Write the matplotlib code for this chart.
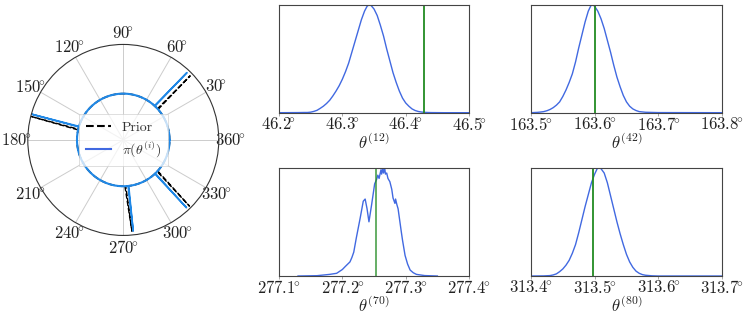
import matplotlib
matplotlib.use("Agg")
import matplotlib.pyplot as plt
from matplotlib.lines import Line2D
import numpy as np

plt.rcParams['font.family'] = 'serif'
plt.rcParams['font.serif'] = ['cmr10']
plt.rcParams['mathtext.fontset'] = 'cm'
plt.rcParams['axes.unicode_minus'] = False

TICK_FS = 12
LABEL_FS = 12

POST_COLOR = '#4169e1'
POLAR_COLOR = '#2088e6'
TRUE_COLOR = '#228b22'

# polar panel: spikes at the four highlighted angles (degrees), radius in [0, 1]
r_base = 0.485
post_base1 = [47.6, 163.0, 276.0, 313.0]
post_tip = [46.6, 164.3, 276.2, 313.0]
post_base2 = [46.9, 163.7, 276.7, 313.7]
post_tip_r = [0.97, 1.0, 0.96, 0.97]

prior_base1 = [41.3, 167.5, 272.0, 318.0]
prior_tip = [43.8, 165.7, 275.4, 315.0]
prior_base2 = [42.4, 166.6, 273.1, 317.0]
prior_tip_r = [0.97, 0.99, 0.96, 0.98]

theta_ticks = list(range(0, 360, 30))
theta_labels = [r'$360\!^{\circ}$'] + [r'$%d\!^{\circ}$' % t for t in theta_ticks[1:]]

# marginal posteriors (relative density, peak = 1)
x12 = [46.20, 46.23, 46.24, 46.245, 46.25, 46.255, 46.26, 46.265, 46.27, 46.275,
       46.28, 46.285, 46.29, 46.295, 46.30, 46.305, 46.31, 46.315, 46.32, 46.325,
       46.33, 46.335, 46.339, 46.342, 46.345, 46.35, 46.355, 46.36, 46.365, 46.37,
       46.375, 46.38, 46.385, 46.39, 46.395, 46.40, 46.405, 46.41, 46.415, 46.42,
       46.425, 46.43, 46.44, 46.46, 46.50]
y12 = [0.0, 0.001, 0.002, 0.002, 0.005, 0.012, 0.022, 0.04, 0.06, 0.085,
       0.115, 0.155, 0.20, 0.25, 0.31, 0.38, 0.46, 0.56, 0.66, 0.76,
       0.86, 0.94, 0.985, 1.0, 0.995, 0.96, 0.90, 0.81, 0.71, 0.59,
       0.48, 0.37, 0.28, 0.20, 0.135, 0.09, 0.06, 0.035, 0.02, 0.011,
       0.006, 0.003, 0.001, 0.0, 0.0]
true12 = 46.429

x42 = [163.50, 163.51, 163.515, 163.52, 163.525, 163.53, 163.535, 163.54, 163.545, 163.55,
       163.555, 163.56, 163.565, 163.57, 163.575, 163.58, 163.585, 163.59, 163.594, 163.597,
       163.60, 163.605, 163.61, 163.615, 163.62, 163.625, 163.63, 163.635, 163.64, 163.645,
       163.65, 163.655, 163.66, 163.665, 163.67, 163.68, 163.70, 163.80]
y42 = [0.0, 0.003, 0.006, 0.01, 0.018, 0.03, 0.047, 0.07, 0.10, 0.15,
       0.21, 0.28, 0.36, 0.47, 0.60, 0.72, 0.84, 0.94, 0.99, 1.0,
       0.985, 0.94, 0.87, 0.78, 0.67, 0.56, 0.44, 0.33, 0.24, 0.16,
       0.10, 0.06, 0.035, 0.02, 0.01, 0.004, 0.001, 0.0]
true42 = 163.600

x70 = [277.13, 277.16, 277.18, 277.191, 277.200, 277.205, 277.212, 277.215, 277.218, 277.222,
       277.225, 277.228, 277.233, 277.236, 277.239, 277.242, 277.246, 277.251, 277.254, 277.256,
       277.258, 277.261, 277.262, 277.264, 277.265, 277.267, 277.268, 277.270, 277.272, 277.275,
       277.278, 277.280, 277.283, 277.284, 277.286, 277.288, 277.293, 277.295, 277.299, 277.303,
       277.307, 277.312, 277.317, 277.33, 277.35]
y70 = [0.0, 0.003, 0.015, 0.025, 0.06, 0.09, 0.13, 0.17, 0.22, 0.35,
       0.44, 0.53, 0.69, 0.71, 0.62, 0.50, 0.65, 0.85, 0.89, 0.93,
       0.90, 0.98, 0.94, 1.0, 0.95, 0.99, 0.94, 0.95, 0.90, 0.87,
       0.80, 0.72, 0.67, 0.71, 0.66, 0.62, 0.41, 0.33, 0.19, 0.11,
       0.055, 0.03, 0.015, 0.004, 0.0]
true70 = 277.2524

x80 = [313.40, 313.42, 313.43, 313.435, 313.44, 313.445, 313.45, 313.455, 313.46, 313.465,
       313.47, 313.475, 313.48, 313.485, 313.49, 313.495, 313.50, 313.504, 313.507, 313.51,
       313.515, 313.52, 313.525, 313.53, 313.535, 313.54, 313.545, 313.55, 313.555, 313.56,
       313.565, 313.57, 313.575, 313.58, 313.59, 313.60, 313.70]
y80 = [0.0, 0.001, 0.004, 0.01, 0.02, 0.04, 0.065, 0.10, 0.145, 0.21,
       0.29, 0.40, 0.52, 0.64, 0.75, 0.86, 0.94, 0.99, 1.0, 0.99,
       0.95, 0.86, 0.74, 0.62, 0.50, 0.39, 0.29, 0.20, 0.13, 0.08,
       0.045, 0.025, 0.013, 0.007, 0.002, 0.0, 0.0]
true80 = 313.497

panels = [
    (x12, y12, true12, [46.2, 46.3, 46.4, 46.5], '12', [0.3735, 0.6445, 0.2544, 0.3407], 1.0),
    (x42, y42, true42, [163.5, 163.6, 163.7, 163.8], '42', [0.7108, 0.6445, 0.2557, 0.3407], 1.0),
    (x70, y70, true70, [277.1, 277.2, 277.3, 277.4], '70', [0.3735, 0.1293, 0.2544, 0.3420], 0.75),
    (x80, y80, true80, [313.4, 313.5, 313.6, 313.7], '80', [0.7108, 0.1293, 0.2557, 0.3420], 1.0),
]

fig = plt.figure(figsize=(7.47, 3.17), dpi=100)

# polar overview
ax = fig.add_axes([0.0372, 0.2573, 0.2557, 0.6025], projection='polar')
circle = np.linspace(0, 2 * np.pi, 721)
ax.plot(circle, np.full_like(circle, r_base), '--', color='black', lw=1.2)
for b1, t, b2, rt in zip(prior_base1, prior_tip, prior_base2, prior_tip_r):
    ax.plot(np.deg2rad([b1, t, b2]), [r_base, rt, r_base], '--', color='black', lw=1.0)
ax.plot(circle, np.full_like(circle, r_base), '-', color=POLAR_COLOR, lw=1.5)
for b1, t, b2, rt in zip(post_base1, post_tip, post_base2, post_tip_r):
    ax.plot(np.deg2rad([b1, t, b2]), [r_base, rt, r_base], '-', color=POLAR_COLOR, lw=1.2)
ax.set_ylim(0, 1)
ax.set_yticks([])
ax.set_thetagrids(theta_ticks, theta_labels, fontsize=TICK_FS, color='#222222')
ax.grid(True, color='#cccccc', lw=0.7)
ax.spines['polar'].set_color('#333333')
ax.spines['polar'].set_linewidth(0.8)
ax.tick_params(axis='x', pad=-2)

handles = [Line2D([], [], ls='--', color='black', lw=1.5),
           Line2D([], [], ls='-', color=POST_COLOR, lw=1.5)]
leg = ax.legend(handles, ['Prior', r'$\pi(\theta^{(i)})$'], loc='center',
                fontsize=10, framealpha=0.75, edgecolor='#cccccc', fancybox=False,
                handlelength=1.8, borderpad=0.5, labelspacing=0.4)
leg.get_frame().set_linewidth(0.6)
for t in leg.get_texts():
    t.set_color('#333333')

# marginal panels
for xs, ys, truth, ticks, idx, rect, alpha in panels:
    a = fig.add_axes(rect)
    a.plot(xs, ys, color=POST_COLOR, lw=1.0)
    a.axvline(truth, color=TRUE_COLOR, lw=1.3, alpha=alpha)
    a.set_xlim(ticks[0], ticks[-1])
    a.set_ylim(0, 1.0)
    a.set_yticks([])
    a.set_xticks(ticks)
    a.set_xticklabels([r'$%.1f\!^{\circ}$' % t for t in ticks], fontsize=TICK_FS, color='#222222')
    a.tick_params(axis='x', length=2, width=0.6, color='#999999', pad=0.5)
    a.set_xlabel(r'$\theta^{(%s)}$' % idx, fontsize=LABEL_FS, labelpad=-1, color='#222222')
    for s in a.spines.values():
        s.set_color('#444444')
        s.set_linewidth(0.8)

fig.savefig('out.png', dpi=100)
